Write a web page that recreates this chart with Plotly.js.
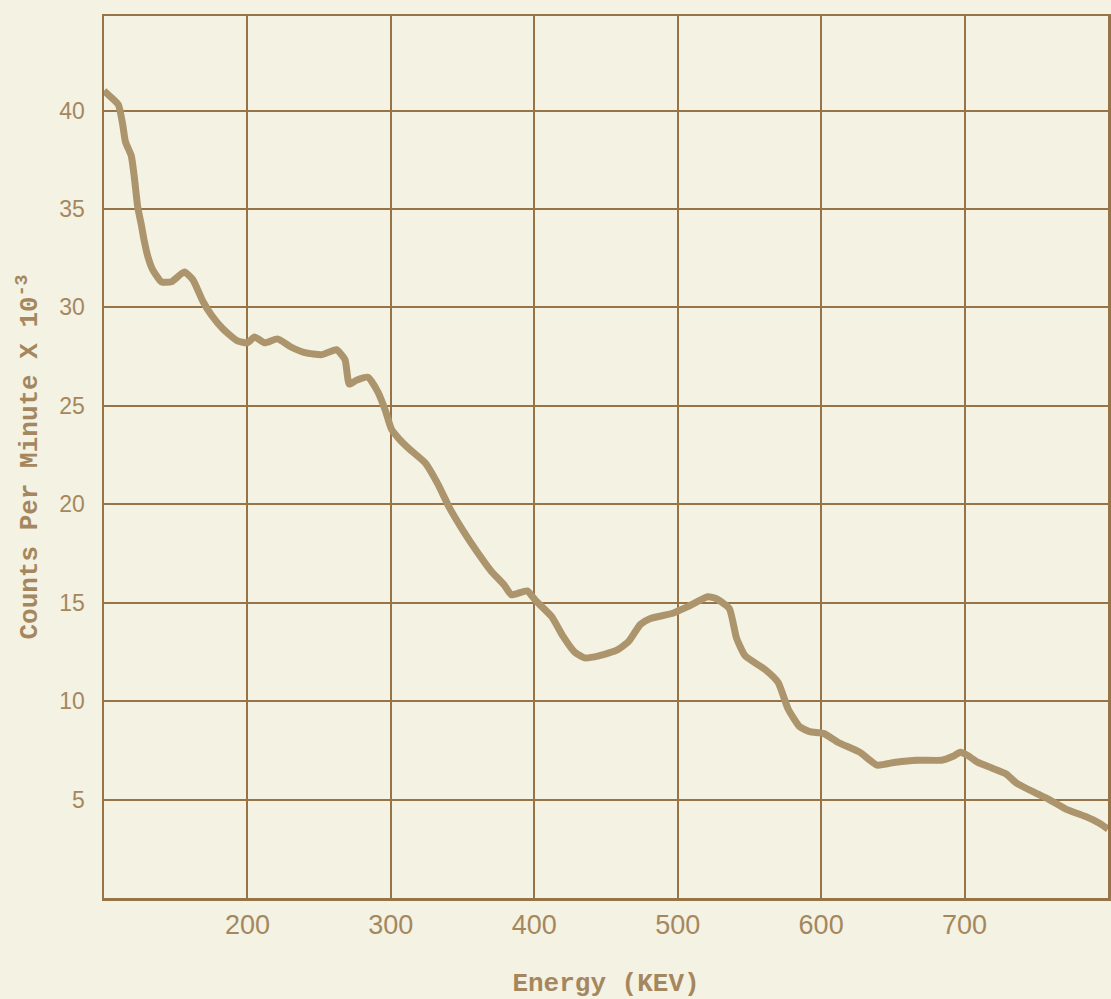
<!DOCTYPE html>
<html>
<head>
<meta charset="utf-8">
<script src="https://cdn.plot.ly/plotly-3.0.1.min.js"></script>
<style>
  html, body { margin: 0; padding: 0; background: #f4f2e2; }
  #chart { width: 1111px; height: 999px; }
</style>
</head>
<body>
<div id="chart"></div>
<script>
// Energy (KEV)
const energy = [100, 103, 110, 113, 115, 119, 121, 123.5, 126, 128, 130.5, 134, 140, 147, 156, 162, 169, 175, 183, 193,
  200, 205, 212, 221, 230, 240, 252, 262, 268, 271, 276, 284, 291, 296, 300.5, 306, 313, 324, 333, 341,
  350, 360, 370, 379, 384, 395, 401, 412, 420, 428, 435, 445, 458, 466, 474, 481, 496, 507, 521, 527,
  536, 541, 547, 561, 570, 577, 585, 592, 602, 612, 627, 639, 652, 667, 684, 692, 697, 702, 709, 719,
  729, 736, 749, 759, 771, 784, 794, 800];
// Counts per minute x 10^-3
const counts = [41.0, 40.8, 40.3, 39.3, 38.4, 37.7, 36.7, 35.1, 34.2, 33.4, 32.6, 31.9, 31.3, 31.3, 31.8, 31.4, 30.3, 29.6, 28.9, 28.3,
  28.2, 28.5, 28.2, 28.4, 28.0, 27.7, 27.6, 27.85, 27.35, 26.1, 26.3, 26.45, 25.7, 24.8, 23.8, 23.3, 22.8, 22.1, 21.0, 19.8,
  18.7, 17.6, 16.6, 15.9, 15.4, 15.6, 15.1, 14.3, 13.3, 12.5, 12.2, 12.3, 12.6, 13.05, 13.9, 14.2, 14.45, 14.8, 15.3, 15.2,
  14.7, 13.2, 12.3, 11.6, 10.95, 9.6, 8.7, 8.45, 8.35, 7.9, 7.4, 6.75, 6.9, 7.0, 7.0, 7.2, 7.4, 7.25, 6.9, 6.6,
  6.3, 5.85, 5.35, 5.0, 4.5, 4.15, 3.8, 3.5];

const xTicks = [200, 300, 400, 500, 600, 700];
const yTicks = [5, 10, 15, 20, 25, 30, 35, 40];

const gridColor = 'rgb(150, 116, 72)';
const textColor = 'rgb(165, 135, 95)';
const bg = '#f4f2e2';

const trace = {
  x: energy,
  y: counts,
  type: 'scatter',
  mode: 'lines',
  line: { color: 'rgb(172, 148, 108)', width: 7, shape: 'spline', smoothing: 0.5 },
  hoverinfo: 'x+y'
};

const layout = {
  width: 1111,
  height: 999,
  paper_bgcolor: bg,
  plot_bgcolor: bg,
  showlegend: false,
  margin: { l: 104, r: 3, t: 16, b: 101 },
  xaxis: {
    range: [100, 800],
    tickvals: xTicks,
    ticktext: xTicks.map(String),
    showgrid: true,
    gridcolor: gridColor,
    gridwidth: 2,
    zeroline: false,
    showline: true,
    linecolor: gridColor,
    linewidth: 2.5,
    mirror: true,
    ticks: '',
    ticklabelstandoff: 1,
    tickfont: { family: 'Liberation Sans, Arial, sans-serif', size: 27, color: textColor },
    title: {
      text: 'Energy (KEV)',
      font: { family: 'Liberation Mono, Courier New, monospace', size: 26, color: textColor, weight: 'bold' },
      standoff: 50
    }
  },
  yaxis: {
    range: [0, 44.8],
    tickvals: yTicks,
    ticktext: yTicks.map(String),
    showgrid: true,
    gridcolor: gridColor,
    gridwidth: 2,
    zeroline: false,
    showline: true,
    linecolor: gridColor,
    linewidth: 2.5,
    mirror: true,
    ticks: '',
    ticklabelstandoff: 12,
    tickfont: { family: 'Liberation Sans, Arial, sans-serif', size: 23, color: textColor },
    title: {
      text: 'Counts Per Minute X 10<sup>-3</sup>',
      font: { family: 'Liberation Mono, Courier New, monospace', size: 26, color: textColor, weight: 'bold' },
      standoff: 14
    }
  }
};

Plotly.newPlot('chart', [trace], layout, { displayModeBar: false, staticPlot: true });
</script>
</body>
</html>
